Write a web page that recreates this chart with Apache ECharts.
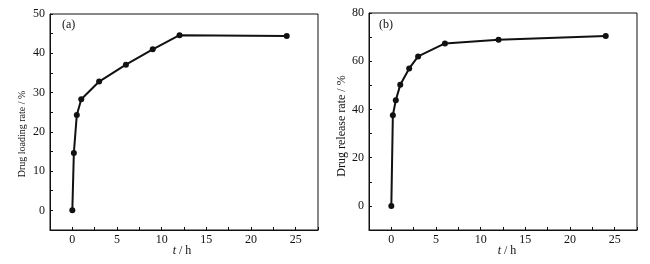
<!DOCTYPE html>
<html>
<head>
<meta charset="utf-8">
<script src="https://cdn.jsdelivr.net/npm/echarts@6/dist/echarts.min.js"></script>
<style>
  html, body { margin: 0; padding: 0; background: #fff; }
  #main { width: 650px; height: 264px; }
</style>
</head>
<body>
<div id="main"></div>
<script>
// (a) drug loading
const timeA = [0, 0.17, 0.5, 1, 3, 6, 9, 12, 24];
const loadingA = [0, 14.6, 24.3, 28.3, 32.8, 37.1, 41.0, 44.6, 44.4];
// (b) drug release
const timeB = [0, 0.17, 0.5, 1, 2, 3, 6, 12, 24];
const releaseB = [0, 37.6, 43.8, 50.2, 57.0, 62.0, 67.4, 68.9, 70.5];

const font = '"Liberation Serif", "DejaVu Serif", serif';
const ink = '#111';

const chart = echarts.init(document.getElementById('main'));

const xAxisBase = (gridIndex) => ({
  type: 'value',
  gridIndex: gridIndex,
  min: -2.5,
  max: 27.5,
  interval: 2.5,
  axisLine: { show: true, onZero: false, lineStyle: { color: ink, width: 1 } },
  axisTick: { show: true, inside: true, length: 3, lineStyle: { color: ink } },
  splitLine: { show: false },
  axisLabel: {
    margin: 4,
    color: ink,
    fontFamily: font,
    fontSize: 12,
    formatter: (v) => (Math.abs(v % 5) < 1e-6 && v >= 0 ? String(v) : '')
  }
});

const yAxisBase = (gridIndex, min, max, step, labelStep) => ({
  type: 'value',
  gridIndex: gridIndex,
  min: min,
  max: max,
  interval: step,
  axisLine: { show: true, onZero: false, lineStyle: { color: ink, width: 1 } },
  axisTick: { show: true, inside: true, length: 3, lineStyle: { color: ink } },
  splitLine: { show: false },
  axisLabel: {
    margin: 5,
    color: ink,
    fontFamily: font,
    fontSize: 12,
    formatter: (v) => (v % labelStep === 0 && v >= 0 ? String(v) : '')
  }
});

const lineSeries = (idx, xs, ys) => ({
  type: 'line',
  xAxisIndex: idx,
  yAxisIndex: idx,
  data: xs.map((t, i) => [t, ys[i]]),
  symbol: 'circle',
  symbolSize: 6,
  lineStyle: { color: ink, width: 2 },
  itemStyle: { color: ink },
  animation: false
});

const option = {
  backgroundColor: '#fff',
  grid: [
    { left: 50, top: 14, width: 268, height: 216, show: true, borderColor: ink, borderWidth: 1 },
    { left: 369, top: 13, width: 268, height: 217, show: true, borderColor: ink, borderWidth: 1 }
  ],
  xAxis: [xAxisBase(0), xAxisBase(1)],
  yAxis: [
    yAxisBase(0, -5, 50, 5, 10),
    yAxisBase(1, -10, 80, 10, 20)
  ],
  series: [
    lineSeries(0, timeA, loadingA),
    lineSeries(1, timeB, releaseB)
  ],
  graphic: [
    {
      type: 'text', left: 62, top: 19,
      style: { text: '(a)', font: '12px ' + font, fill: ink }
    },
    {
      type: 'text', left: 379, top: 19,
      style: { text: '(b)', font: '12px ' + font, fill: ink }
    },
    {
      type: 'text', x: 22, y: 134, rotation: Math.PI / 2,
      style: {
        text: 'Drug loading rate / %', font: '10px ' + font, fill: ink,
        align: 'center', verticalAlign: 'middle'
      }
    },
    {
      type: 'text', x: 342, y: 126, rotation: Math.PI / 2,
      style: {
        text: 'Drug release rate / %', font: '12px ' + font, fill: ink,
        align: 'center', verticalAlign: 'middle'
      }
    },
    {
      type: 'text', x: 182, y: 251,
      style: {
        text: '{i|t} / h', fill: ink, align: 'center', verticalAlign: 'middle',
        rich: {
          i: { fontFamily: font, fontSize: 12, fontStyle: 'italic', fill: ink }
        },
        font: '12px ' + font
      }
    },
    {
      type: 'text', x: 507, y: 251,
      style: {
        text: '{i|t} / h', fill: ink, align: 'center', verticalAlign: 'middle',
        rich: {
          i: { fontFamily: font, fontSize: 12, fontStyle: 'italic', fill: ink }
        },
        font: '12px ' + font
      }
    }
  ]
};

chart.setOption(option);
</script>
</body>
</html>
